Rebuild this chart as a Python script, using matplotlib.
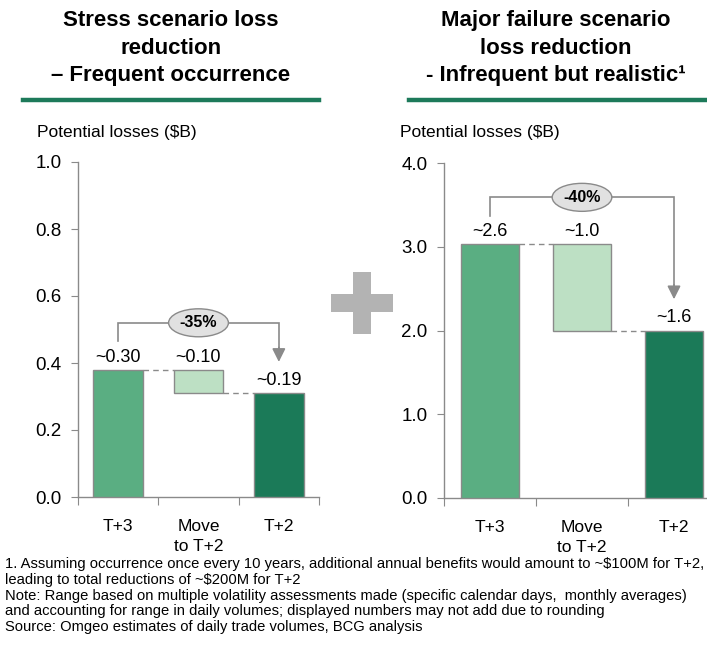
import matplotlib
matplotlib.use('Agg')
import matplotlib.pyplot as plt
from matplotlib.patches import Rectangle

plt.rcParams['font.family'] = ['Liberation Sans', 'DejaVu Sans']

# data
categories = ['T+3', 'Move\nto T+2', 'T+2']
left_start, left_end = 0.38, 0.31
right_start, right_end = 3.03, 2.0
left_labels = ['~0.30', '~0.10', '~0.19']
right_labels = ['~2.6', '~1.0', '~1.6']
left_change = '-35%'
right_change = '-40%'
left_ticks = [0.0, 0.2, 0.4, 0.6, 0.8, 1.0]
right_ticks = [0.0, 1.0, 2.0, 3.0, 4.0]

c_start = '#5aae82'
c_move = '#bde0c4'
c_end = '#1b7a58'
edge = '#8a8a8a'
grey = '#8a8a8a'

W, H = 707, 649
fig = plt.figure(figsize=(W / 100, H / 100), dpi=100)


def px(x0, y0, x1, y1):
    # pixel box (top-left origin) -> figure fraction rect
    return [x0 / W, 1 - y1 / H, (x1 - x0) / W, (y1 - y0) / H]


def waterfall(ax, start, end, labels, change, ticks, ymax):
    w = 0.62
    x = [0.5, 1.5, 2.5]
    ax.bar(x[0], start, w, color=c_start, edgecolor=edge, linewidth=1, zorder=3)
    ax.bar(x[1], start - end, w, bottom=end, color=c_move, edgecolor=edge,
           linewidth=1, zorder=3)
    ax.bar(x[2], end, w, color=c_end, edgecolor=edge, linewidth=1, zorder=3)

    # dashed connectors
    ax.plot([x[0] + w / 2, x[1] - w / 2], [start, start], ls=(0, (4, 3)),
            color=grey, lw=1, zorder=2)
    ax.plot([x[1] + w / 2, x[2] - w / 2], [end, end], ls=(0, (4, 3)),
            color=grey, lw=1, zorder=2)

    # value labels
    tops = [start, start, end]
    for xi, t, lab in zip(x, tops, labels):
        ax.annotate(lab, (xi, t), xytext=(0, 3), textcoords='offset points',
                    ha='center', va='bottom', fontsize=13)

    # bracket with arrow
    y0 = start + 0.085 * ymax
    yt = start + 0.14 * ymax
    y1 = end + 0.085 * ymax
    ax.plot([x[0], x[0], x[2], x[2]], [y0, yt, yt, y1 + 0.02 * ymax],
            color=grey, lw=1.2, zorder=2, solid_joinstyle='miter')
    ax.annotate('', xy=(x[2], y1), xytext=(x[2], y1 + 0.06 * ymax),
                arrowprops=dict(arrowstyle='-|>,head_length=0.8,head_width=0.4',
                                color=grey, lw=1.2))
    ax.text(1.5, yt, change, ha='center', va='center', fontsize=11.5,
            fontweight='bold', zorder=5,
            bbox=dict(boxstyle='ellipse,pad=0.15', fc='#e1e1e1', ec=grey, lw=1))

    ax.set_xlim(0, 3)
    ax.set_ylim(0, ymax)
    ax.set_yticks(ticks)
    ax.set_yticklabels(['%.1f' % t for t in ticks])
    ax.set_xticks([0, 1, 2, 3])
    ax.set_xticklabels([])
    ax.set_xticks(x, minor=True)
    ax.set_xticklabels(categories, minor=True, fontsize=12.5, linespacing=1.4)
    ax.tick_params(axis='x', which='minor', length=0, pad=16)
    ax.tick_params(axis='x', which='major', length=6, color=grey, direction='out')
    ax.tick_params(axis='y', length=5, color=grey, labelsize=13.5, pad=7)
    for s in ['top', 'right']:
        ax.spines[s].set_visible(False)
    for s in ['left', 'bottom']:
        ax.spines[s].set_color(grey)
        ax.spines[s].set_linewidth(1)
        ax.spines[s].set_clip_on(False)


ax1 = fig.add_axes(px(78, 162, 319, 497))
waterfall(ax1, left_start, left_end, left_labels, left_change, left_ticks, 1.0)

ax2 = fig.add_axes(px(444, 163, 720, 498))
waterfall(ax2, right_start, right_end, right_labels, right_change, right_ticks, 4.0)

# titles
fig.text(171 / W, 1 - 48 / H, 'Stress scenario loss\nreduction\n\u2013 Frequent occurrence',
         ha='center', va='center', fontsize=16, fontweight='bold', linespacing=1.4)
fig.text(556 / W, 1 - 48 / H, 'Major failure scenario\nloss reduction\n- Infrequent but realistic\u00b9',
         ha='center', va='center', fontsize=16, fontweight='bold', linespacing=1.4)
fig.add_artist(plt.Line2D([23 / W, 319 / W], [1 - 100 / H] * 2, color='#1d7a5a', lw=3.2))
fig.add_artist(plt.Line2D([409 / W, 705 / W], [1 - 100 / H] * 2, color='#1d7a5a', lw=3.2))

fig.text(37 / W, 1 - 132 / H, 'Potential losses ($B)', ha='left', va='center', fontsize=12.5)
fig.text(400 / W, 1 - 132 / H, 'Potential losses ($B)', ha='left', va='center', fontsize=12.5)

# plus sign
fig.add_artist(Rectangle((331 / W, 1 - 312 / H), 62 / W, 18 / H, transform=fig.transFigure,
                         color='#b3b3b3', lw=0))
fig.add_artist(Rectangle((353 / W, 1 - 334 / H), 18 / W, 62 / H, transform=fig.transFigure,
                         color='#b3b3b3', lw=0))

notes = ('1. Assuming occurrence once every 10 years, additional annual benefits would amount to ~\\$100M for T+2,\n'
         'leading to total reductions of ~\\$200M for T+2\n'
         'Note: Range based on multiple volatility assessments made (specific calendar days,  monthly averages)\n'
         'and accounting for range in daily volumes; displayed numbers may not add due to rounding\n'
         'Source: Omgeo estimates of daily trade volumes, BCG analysis')
fig.text(5 / W, 1 - 557 / H, notes, ha='left', va='top', fontsize=10.6, linespacing=1.16)

fig.savefig('out.png', dpi=100)
